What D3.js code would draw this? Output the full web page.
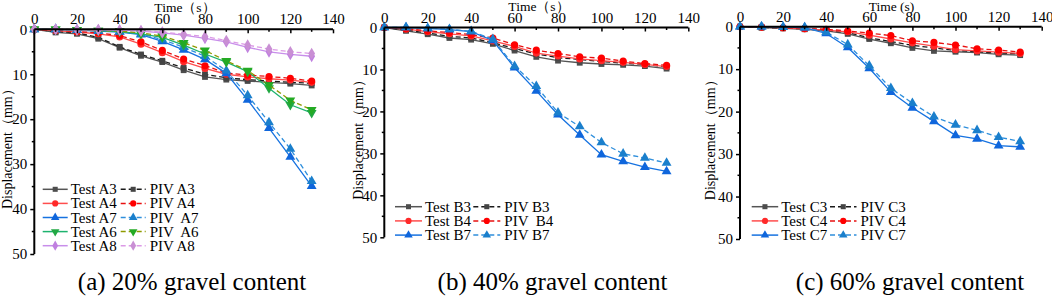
<!DOCTYPE html>
<html>
<head>
<meta charset="utf-8">
<script src="https://cdn.jsdelivr.net/npm/d3@7"></script>
<style>
  body { margin: 0; background: #fff; }
  svg { display: block; font-family: "Liberation Serif", "Times New Roman", serif; }
  text { white-space: pre; }
</style>
</head>
<body>
<svg id="chart" width="1052" height="298"></svg>
<script>
// time steps (s)
const time = [0, 10, 20, 30, 40, 50, 60, 70, 80, 90, 100, 110, 120, 130]

// (a) 20% gravel
const testA3 = [0, 0.7, 1.0, 2.1, 4.1, 5.9, 7.3, 9.1, 10.6, 11.2, 11.5, 11.8, 12.1, 12.5]
const pivA3 = [0, 0.5, 0.8, 1.8, 3.9, 5.6, 7.0, 8.6, 10.0, 10.8, 11.2, 11.5, 11.8, 12.0]
const testA4 = [0, 0.3, 0.6, 1.0, 1.7, 3.3, 5.2, 7.2, 8.7, 10.0, 10.6, 11.0, 11.3, 11.8]
const pivA4 = [0, 0.2, 0.5, 0.8, 1.4, 2.8, 4.7, 6.6, 8.1, 9.7, 10.2, 10.5, 10.9, 11.5]
const testA7 = [0, 0, 0.2, 0.4, 0.6, 1.2, 2.7, 4.6, 6.7, 9.8, 15.7, 22.0, 28.4, 34.9]
const pivA7 = [0, 0, 0.2, 0.3, 0.5, 1.0, 2.3, 4.0, 6.0, 9.2, 14.7, 20.7, 26.6, 33.8]
const testA6 = [0, 0, 0.1, 0.3, 0.5, 1.0, 1.8, 3.5, 5.5, 7.3, 9.4, 13.1, 16.8, 18.6]
const pivA6 = [0, 0, 0.1, 0.3, 0.4, 0.8, 1.5, 3.0, 4.7, 7.0, 9.2, 12.4, 15.8, 17.9]
const testA8 = [0, 0, 0.1, 0.1, 0.2, 0.4, 0.8, 1.3, 2.0, 2.8, 4.0, 5.0, 5.6, 6.0]
const pivA8 = [0, 0, 0.1, 0.1, 0.2, 0.3, 0.6, 1.1, 1.6, 2.5, 3.5, 4.4, 5.0, 5.4]

// (b) 40% gravel
const testB3 = [0, 0.8, 1.6, 2.5, 2.9, 3.9, 5.5, 7.0, 7.9, 8.4, 8.7, 8.9, 9.2, 9.8]
const pivB3 = [0, 0.6, 1.3, 2.1, 2.5, 3.6, 5.0, 6.3, 7.2, 7.6, 8.1, 8.5, 8.8, 9.4]
const testB4 = [0, 0.4, 1.0, 1.5, 2.0, 3.2, 4.5, 6.1, 6.8, 7.5, 7.9, 8.3, 8.8, 9.3]
const pivB4 = [0, 0.3, 0.8, 1.2, 1.7, 2.5, 4.1, 5.4, 6.2, 7.0, 7.3, 8.0, 8.6, 9.0]
const testB7 = [0, 0, 0.2, 0.5, 1.0, 3.1, 9.6, 15.1, 20.8, 25.6, 30.3, 31.9, 33.3, 34.3]
const pivB7 = [0, 0, 0.2, 0.4, 0.9, 2.8, 9.2, 14.0, 20.3, 23.6, 27.4, 30.1, 31.1, 32.3]

// (c) 60% gravel
const testC3 = [0, 0.2, 0.4, 0.6, 1.0, 1.7, 2.9, 3.9, 5.0, 5.7, 5.9, 6.1, 6.5, 6.7]
const pivC3 = [0, 0.2, 0.3, 0.5, 0.8, 1.4, 2.6, 3.5, 4.4, 5.0, 5.6, 5.9, 6.2, 6.4]
const testC4 = [0, 0.1, 0.3, 0.5, 0.8, 1.2, 2.0, 2.9, 3.8, 4.6, 5.4, 5.7, 6.0, 6.3]
const pivC4 = [0, 0.1, 0.2, 0.4, 0.6, 1.0, 1.5, 2.1, 3.3, 3.7, 4.3, 5.2, 5.5, 6.0]
const testC7 = [0, 0, 0.1, 0.2, 1.6, 4.9, 9.8, 15.4, 19.1, 22.3, 25.6, 26.4, 28.0, 28.3]
const pivC7 = [0, 0, 0.1, 0.2, 1.3, 4.2, 9.2, 14.5, 18.0, 21.2, 23.1, 24.4, 26.0, 27.0]

const xTicks = [0, 20, 40, 60, 80, 100, 120, 140]
const yTicks = [0, 10, 20, 30, 40, 50]

// styles per series kind
const sty = {
    gray:   { test: '#555555', testMk: '#4d4d4d', piv: '#1a1a1a', pivMk: '#444444', sym: d3.symbolSquare, size: 34 },
    red:    { test: '#ff4d4d', testMk: '#ff2a2a', piv: '#e81010', pivMk: '#ff0000', sym: d3.symbolCircle, size: 40 },
    blue:   { test: '#1672e0', testMk: '#0f66dc', piv: '#2f8fdc', pivMk: '#1a7fcc', sym: d3.symbolTriangle, size: 42 },
    green:  { test: '#1db36e', testMk: '#22a844', piv: '#8f9a00', pivMk: '#24aa24', sym: 'down', size: 42 },
    purple: { test: '#c88eea', testMk: '#c080e0', piv: '#dc9ae6', pivMk: '#c98fd4', sym: d3.symbolDiamond, size: 40 },
}

const panels = [
    {
        x0: 34.3, x1: 333, y0: 29.3, y1: 254,
        title: 'Time（s）', titleX: 185, titleY: 11.5,
        ylabX: 7, caption: '(a) 20% gravel content', capX: 192,
        leg: { c1: 42.7, c2: 120.7, w: 25, y: 189.3, dy: 14.1 },
        series: [
            ['Test A3', 'PIV A3', testA3, pivA3, 'gray'],
            ['Test A4', 'PIV A4', testA4, pivA4, 'red'],
            ['Test A7', 'PIV  A7', testA7, pivA7, 'blue'],
            ['Test A6', 'PIV  A6', testA6, pivA6, 'green'],
            ['Test A8', 'PIV A8', testA8, pivA8, 'purple'],
        ]
    },
    {
        x0: 384.3, x1: 688.3, y0: 27.5, y1: 237.3,
        title: 'Time（s）', titleX: 539, titleY: 10.5,
        ylabX: 358, caption: '(b) 40% gravel content', capX: 552.5,
        leg: { c1: 395, c2: 473.3, w: 27, y: 206.7, dy: 14.2 },
        series: [
            ['Test B3', 'PIV B3', testB3, pivB3, 'gray'],
            ['Test B4', 'PIV  B4', testB4, pivB4, 'red'],
            ['Test B7', 'PIV B7', testB7, pivB7, 'blue'],
        ]
    },
    {
        x0: 740, x1: 1041.7, y0: 26.7, y1: 239,
        title: 'Time (s)', titleX: 891.5, titleY: 10.5,
        ylabX: 710.5, caption: '(c) 60% gravel content', capX: 910,
        leg: { c1: 751.7, c2: 830, w: 26.5, y: 206.7, dy: 14.2 },
        series: [
            ['Test C3', 'PIV C3', testC3, pivC3, 'gray'],
            ['Test C4', 'PIV C4', testC4, pivC4, 'red'],
            ['Test C7', 'PIV C7', testC7, pivC7, 'blue'],
        ]
    },
]

const svg = d3.select('#chart')

function marker(g, kind, fill, x, y, scale) {
    const s = sty[kind]
    const sym = s.sym == 'down' ? d3.symbolTriangle : s.sym
    g.append('path')
        .attr('d', d3.symbol().type(sym).size(s.size * scale)())
        .attr('transform', 'translate(' + x + ',' + y + ')' + (s.sym == 'down' ? ' rotate(180)' : ''))
        .attr('fill', fill)
}

function drawPanel(p) {
    const g = svg.append('g')
    const x = d3.scaleLinear().domain([0, 140]).range([p.x0, p.x1])
    const y = d3.scaleLinear().domain([0, 50]).range([p.y0, p.y1])

    // series: test lines (solid), piv lines (dashed)
    const line = (vals) => d3.line().x((d, i) => x(time[i])).y(d => y(d))(vals)

    for (const [tName, pName, tv, pv, kind] of p.series) {
        const s = sty[kind]
        g.append('path').attr('d', line(tv)).attr('fill', 'none')
            .attr('stroke', s.test).attr('stroke-width', 1.3)
        tv.forEach((d, i) => marker(g, kind, s.testMk, x(time[i]), y(d), 1))
        g.append('path').attr('d', line(pv)).attr('fill', 'none')
            .attr('stroke', s.piv).attr('stroke-width', 1.3).attr('stroke-dasharray', '5,3')
        pv.forEach((d, i) => marker(g, kind, s.pivMk, x(time[i]), y(d), 1))
    }

    // top x axis, ticks pointing down into the plot
    const xa = g.append('g').attr('transform', 'translate(0,' + p.y0 + ')')
        .call(d3.axisTop(x).tickValues(xTicks).tickSize(-4).tickPadding(5).tickFormat(d3.format('d')))
        .attr('font-family', null).attr('font-size', 15)
    xa.select('.domain').attr('stroke-width', 2).attr('d', 'M' + p.x0 + ',0H' + p.x1)
    xa.selectAll('.tick line').attr('stroke-width', 1.5)
    xa.selectAll('.tick text').attr('fill', '#000')
    xa.selectAll('.tick').filter(d => d == 0).select('line').remove()
    for (let v = 10; v < 140; v += 20) {
        xa.append('line').attr('x1', x(v)).attr('x2', x(v)).attr('y1', 0).attr('y2', 2.5)
            .attr('stroke', '#000').attr('stroke-width', 1.5)
    }

    // left y axis, ticks outward
    const ya = g.append('g').attr('transform', 'translate(' + p.x0 + ',0)')
        .call(d3.axisLeft(y).tickValues(yTicks).tickSize(4).tickPadding(3))
        .attr('font-family', null).attr('font-size', 15)
    ya.select('.domain').attr('stroke-width', 2).attr('d', 'M0,' + p.y0 + 'V' + p.y1)
    ya.selectAll('.tick line').attr('stroke-width', 1.5)
    ya.selectAll('.tick text').attr('fill', '#000')
    ya.selectAll('.tick').filter(d => d == 0).select('line').remove()
    for (let v = 5; v < 50; v += 10) {
        ya.append('line').attr('x1', -2.5).attr('x2', 0).attr('y1', y(v)).attr('y2', y(v))
            .attr('stroke', '#000').attr('stroke-width', 1.5)
    }

    // axis titles
    g.append('text').attr('x', p.titleX).attr('y', p.titleY)
        .attr('text-anchor', 'middle').attr('font-size', 13.5).text(p.title)
    g.append('text')
        .attr('transform', 'translate(' + p.ylabX + ',' + ((p.y0 + p.y1) / 2 + 4) + ') rotate(-90)')
        .attr('text-anchor', 'middle').attr('dominant-baseline', 'central')
        .attr('font-size', 14).text('Displacement（mm）')

    // legend
    const L = p.leg
    p.series.forEach(([tName, pName, tv, pv, kind], i) => {
        const s = sty[kind]
        const ry = L.y + i * L.dy
        g.append('line').attr('x1', L.c1).attr('x2', L.c1 + L.w).attr('y1', ry).attr('y2', ry)
            .attr('stroke', s.test).attr('stroke-width', 1.5)
        marker(g, kind, s.testMk, L.c1 + L.w / 2, ry, 0.75)
        g.append('text').attr('x', L.c1 + L.w + 3).attr('y', ry + 5)
            .attr('font-size', 15).text(tName)
        g.append('line').attr('x1', L.c2).attr('x2', L.c2 + L.w).attr('y1', ry).attr('y2', ry)
            .attr('stroke', s.piv).attr('stroke-width', 1.5).attr('stroke-dasharray', '5,3')
        marker(g, kind, s.pivMk, L.c2 + L.w / 2, ry, 0.75)
        g.append('text').attr('x', L.c2 + L.w + 4).attr('y', ry + 5)
            .attr('font-size', 15).text(pName)
    })

    // caption
    g.append('text').attr('x', p.capX).attr('y', 290)
        .attr('text-anchor', 'middle').attr('font-size', 25).text(p.caption)
}

panels.forEach(drawPanel)
</script>
</body>
</html>
